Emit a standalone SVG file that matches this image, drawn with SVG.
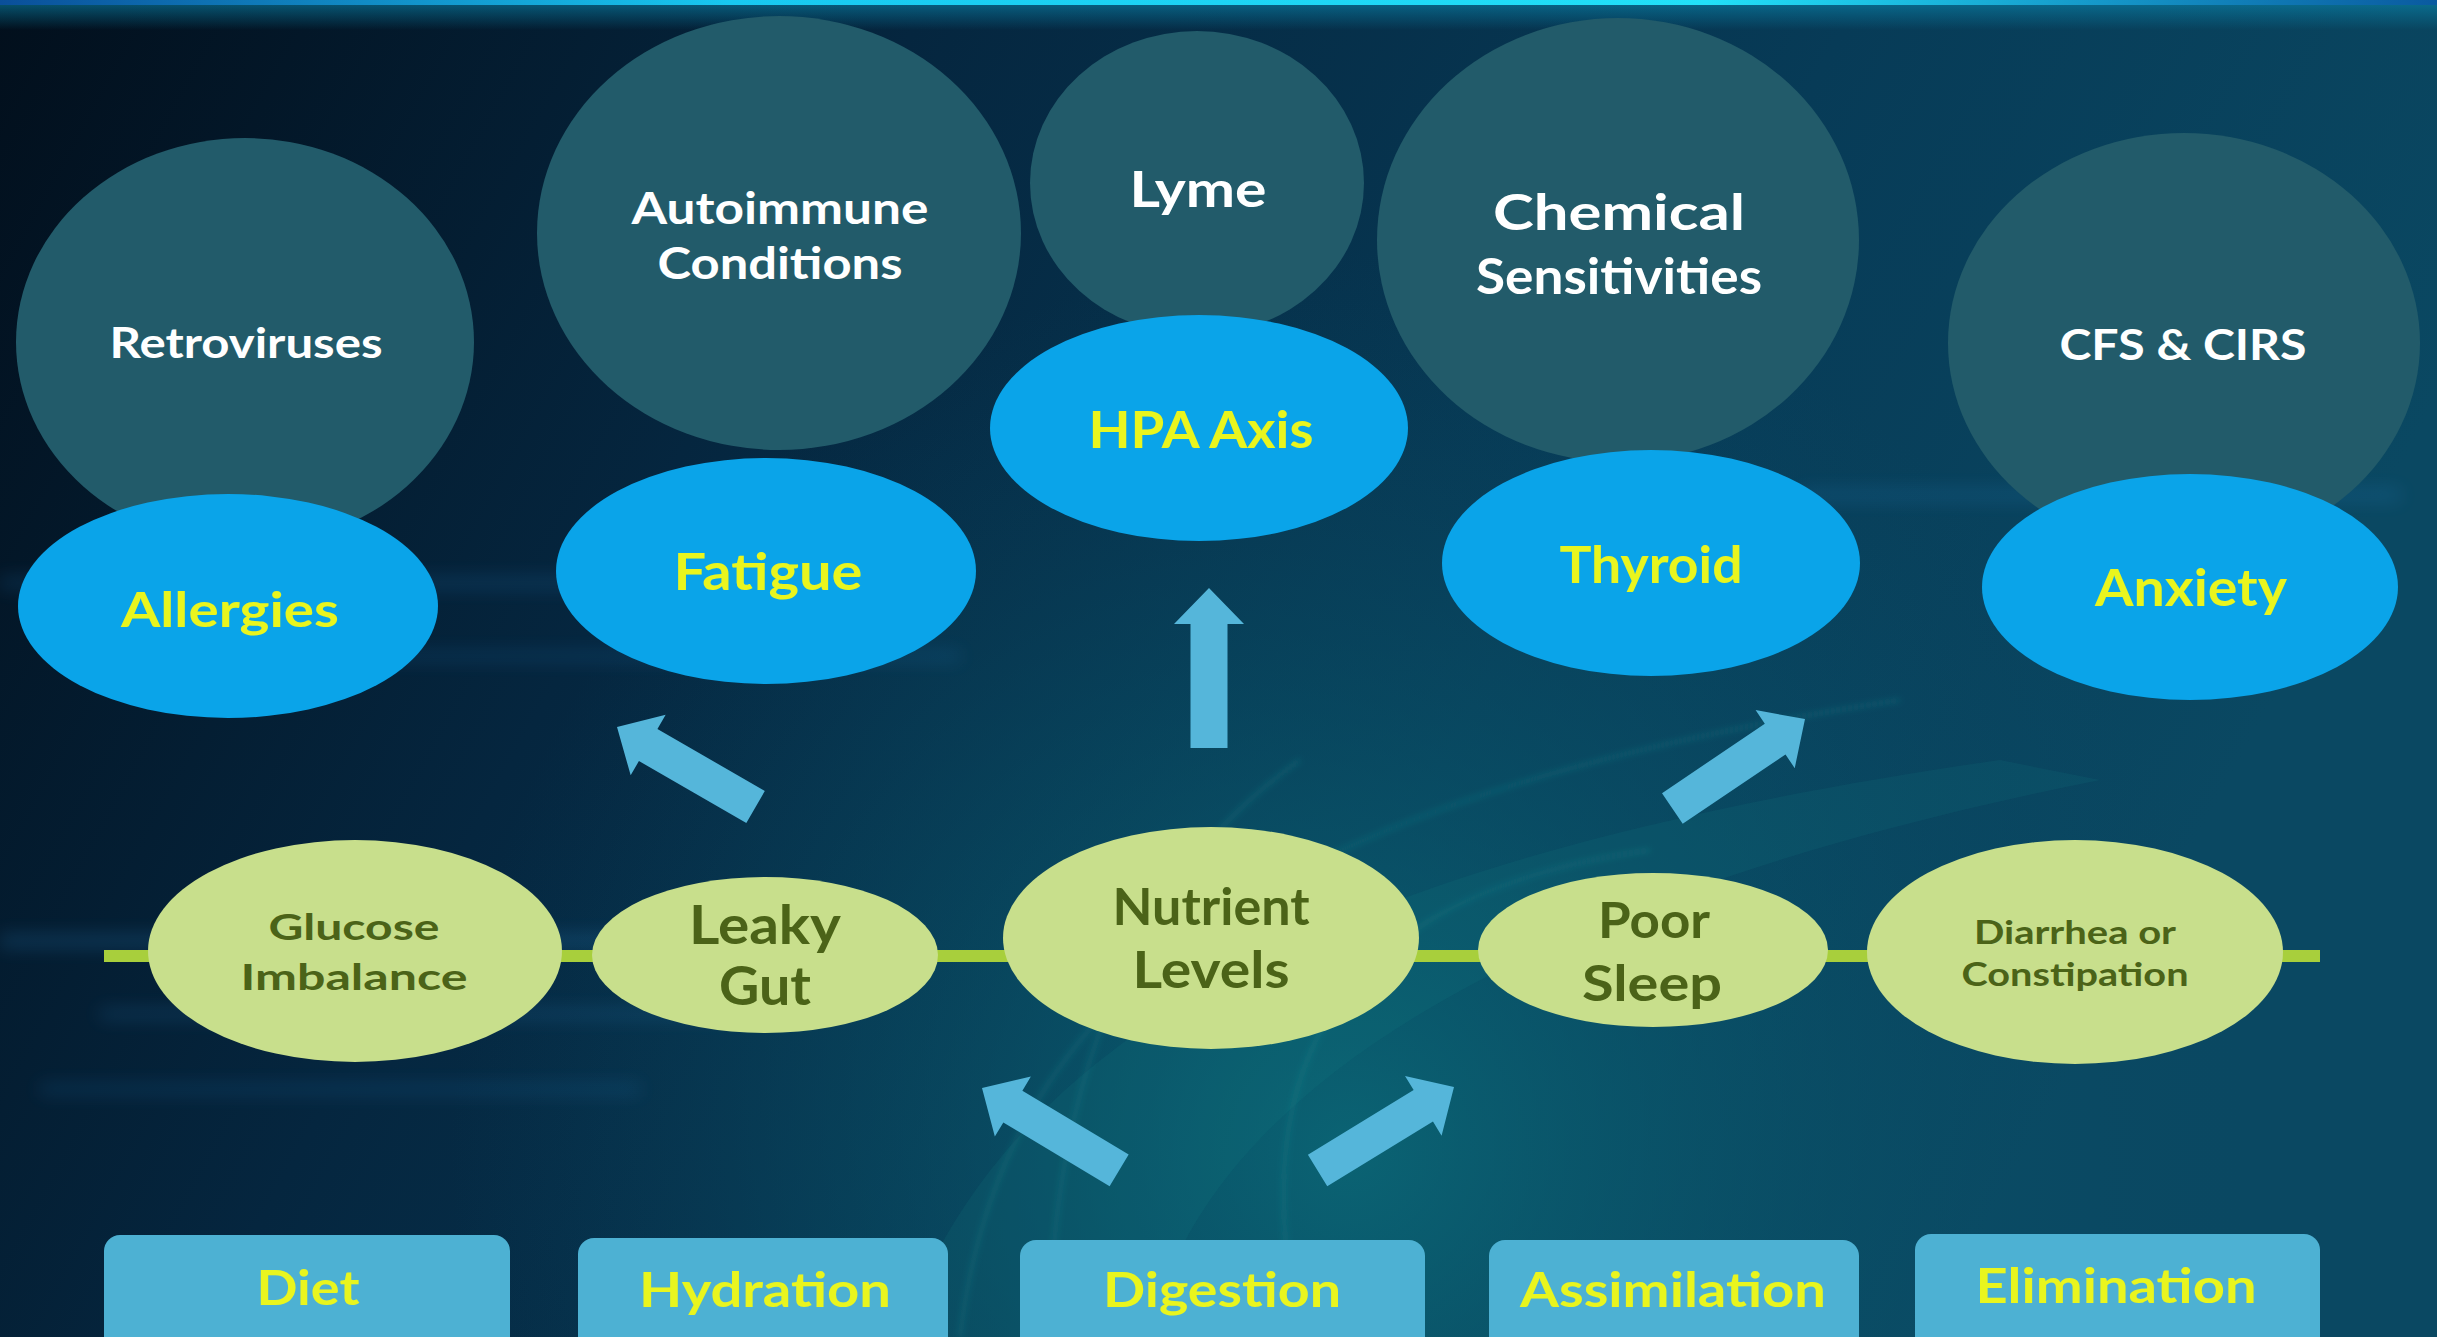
<svg xmlns="http://www.w3.org/2000/svg" width="2437" height="1337" viewBox="0 0 2437 1337">
  <defs>
    <linearGradient id="bg" x1="0" y1="0" x2="1" y2="0.3">
      <stop offset="0" stop-color="#020f1c"/>
      <stop offset="0.35" stop-color="#05263f"/>
      <stop offset="0.7" stop-color="#073b57"/>
      <stop offset="1" stop-color="#0a4862"/>
    </linearGradient>
    <radialGradient id="glow" cx="1350" cy="1150" r="900" gradientUnits="userSpaceOnUse">
      <stop offset="0" stop-color="#0b6a78" stop-opacity="0.85"/>
      <stop offset="0.5" stop-color="#0a5a6e" stop-opacity="0.4"/>
      <stop offset="1" stop-color="#0a4a66" stop-opacity="0"/>
    </radialGradient>
    <linearGradient id="topline" x1="0" y1="0" x2="1" y2="0">
      <stop offset="0" stop-color="#0a4f9a"/>
      <stop offset="0.3" stop-color="#18c8f0"/>
      <stop offset="0.7" stop-color="#22e0f8"/>
      <stop offset="1" stop-color="#0a5aa0"/>
    </linearGradient>
    <linearGradient id="topfade" x1="0" y1="0" x2="0" y2="1">
      <stop offset="0" stop-color="#0a8fb8" stop-opacity="0.6"/>
      <stop offset="1" stop-color="#0a8fb8" stop-opacity="0"/>
    </linearGradient>
    <filter id="blur" x="-20%" y="-300%" width="140%" height="700%">
      <feGaussianBlur stdDeviation="9"/>
    </filter>
    <filter id="blur2" x="-20%" y="-20%" width="140%" height="140%">
      <feGaussianBlur stdDeviation="3"/>
    </filter>
    <path id="arrow" d="M0,0 L35,36 L18.5,36 L18.5,160 L-18.5,160 L-18.5,36 L-35,36 Z"/>
    <style>
      .dark { fill: #225b6a; }
      .blue { fill: #0aa4e9; }
      .green { fill: #c8df8c; }
      .box { fill: #4db1d3; }
      .arr { fill: #55b6da; }
      text { font-family: "Lato", "Liberation Sans", sans-serif; font-weight: bold; text-anchor: middle; }
      .wt { fill: #ffffff; }
      .yt { fill: #e9f51e; }
      .gt { fill: #4b6318; }
    </style>
  </defs>

  <!-- background -->
  <rect x="0" y="0" width="2437" height="1337" fill="url(#bg)"/>
  <rect x="0" y="0" width="2437" height="1337" fill="url(#glow)"/>
  <g opacity="0.22" filter="url(#blur)">
    <rect x="0" y="578" width="700" height="10" fill="#2f8fd8"/>
    <rect x="60" y="652" width="900" height="8" fill="#2f8fd8"/>
    <rect x="0" y="935" width="650" height="12" fill="#3aa0e8"/>
    <rect x="100" y="1010" width="700" height="8" fill="#3aa0e8"/>
    <rect x="40" y="1085" width="600" height="8" fill="#2f8fd8"/>
    <rect x="1800" y="490" width="600" height="10" fill="#2f8fd8"/>
  </g>
  <g fill="none" stroke="#2aa8a8" stroke-opacity="0.25" stroke-width="3" filter="url(#blur2)">
    <path d="M960,1337 C1000,1000 1250,800 1900,700"/>
    <path d="M1300,1337 C1250,1100 1300,900 1650,850"/>
    <path d="M1050,1337 C1050,1150 1100,900 1300,760"/>
  </g>
  <path d="M900,1337 C1000,1050 1300,860 2000,760 L2100,780 C1500,900 1200,1100 1150,1337 Z" fill="#1a8a8a" opacity="0.12"/>
  <rect x="0" y="0" width="2437" height="30" fill="url(#topfade)"/>
  <rect x="0" y="0" width="2437" height="5" fill="url(#topline)"/>

  <!-- connectors -->
  <g id="connectors">
    <rect id="baseline" x="104" y="950" width="2216" height="12" fill="#a8cf3c"/>
    <use href="#arrow" class="arr" transform="translate(1209,588)"/>
    <use href="#arrow" class="arr" transform="translate(617,727) rotate(-60)"/>
    <use href="#arrow" class="arr" transform="translate(1805,719) rotate(56)"/>
    <use href="#arrow" class="arr" transform="translate(982,1088) rotate(-59)"/>
    <use href="#arrow" class="arr" transform="translate(1454,1087) rotate(58.5)"/>
  </g>

  <!-- dark condition ellipses -->
  <g id="retroviruses">
    <ellipse class="dark" cx="245" cy="342" rx="229" ry="204"/>
    <text class="wt" x="246" y="358" font-size="42" textLength="273" lengthAdjust="spacingAndGlyphs">Retroviruses</text>
  </g>
  <g id="autoimmune">
    <ellipse class="dark" cx="779" cy="233" rx="242" ry="217"/>
    <text class="wt" x="780" y="224" font-size="43" textLength="297" lengthAdjust="spacingAndGlyphs">Autoimmune</text>
    <text class="wt" x="780" y="279" font-size="43" textLength="245" lengthAdjust="spacingAndGlyphs">Conditions</text>
  </g>
  <g id="lyme">
    <ellipse class="dark" cx="1197" cy="183" rx="167" ry="152"/>
    <text class="wt" x="1198" y="207" font-size="50" textLength="137" lengthAdjust="spacingAndGlyphs">Lyme</text>
  </g>
  <g id="chemical">
    <ellipse class="dark" cx="1618" cy="240" rx="241" ry="222"/>
    <text class="wt" x="1619" y="230" font-size="50" textLength="252" lengthAdjust="spacingAndGlyphs">Chemical</text>
    <text class="wt" x="1619" y="294" font-size="50" textLength="286" lengthAdjust="spacingAndGlyphs">Sensitivities</text>
  </g>
  <g id="cfs">
    <ellipse class="dark" cx="2184" cy="343" rx="236" ry="210"/>
    <text class="wt" x="2183" y="360" font-size="42" textLength="247" lengthAdjust="spacingAndGlyphs">CFS &amp; CIRS</text>
  </g>

  <!-- blue symptom ellipses -->
  <g id="allergies">
    <ellipse class="blue" cx="228" cy="606" rx="210" ry="112"/>
    <text class="yt" x="230" y="627" font-size="48" textLength="218" lengthAdjust="spacingAndGlyphs">Allergies</text>
  </g>
  <g id="fatigue">
    <ellipse class="blue" cx="766" cy="571" rx="210" ry="113"/>
    <text class="yt" x="768" y="590" font-size="51" textLength="189" lengthAdjust="spacingAndGlyphs">Fatigue</text>
  </g>
  <g id="hpa">
    <ellipse class="blue" cx="1199" cy="428" rx="209" ry="113"/>
    <text class="yt" x="1201" y="448" font-size="51" textLength="225" lengthAdjust="spacingAndGlyphs">HPA Axis</text>
  </g>
  <g id="thyroid">
    <ellipse class="blue" cx="1651" cy="563" rx="209" ry="113"/>
    <text class="yt" x="1651" y="583" font-size="51" textLength="183" lengthAdjust="spacingAndGlyphs">Thyroid</text>
  </g>
  <g id="anxiety">
    <ellipse class="blue" cx="2190" cy="587" rx="208" ry="113"/>
    <text class="yt" x="2191" y="606" font-size="51" textLength="192" lengthAdjust="spacingAndGlyphs">Anxiety</text>
  </g>

  <!-- green ellipses -->
  <g id="glucose">
    <ellipse class="green" cx="355" cy="951" rx="207" ry="111"/>
    <text class="gt" x="354" y="940" font-size="37" textLength="171" lengthAdjust="spacingAndGlyphs">Glucose</text>
    <text class="gt" x="354" y="990" font-size="37" textLength="227" lengthAdjust="spacingAndGlyphs">Imbalance</text>
  </g>
  <g id="leaky">
    <ellipse class="green" cx="765" cy="955" rx="173" ry="78"/>
    <text class="gt" x="765" y="944" font-size="54" textLength="152" lengthAdjust="spacingAndGlyphs">Leaky</text>
    <text class="gt" x="765" y="1005" font-size="54" textLength="92" lengthAdjust="spacingAndGlyphs">Gut</text>
  </g>
  <g id="nutrient">
    <ellipse class="green" cx="1211" cy="938" rx="208" ry="111"/>
    <text class="gt" x="1211" y="925" font-size="52" textLength="197" lengthAdjust="spacingAndGlyphs">Nutrient</text>
    <text class="gt" x="1211" y="988" font-size="52" textLength="157" lengthAdjust="spacingAndGlyphs">Levels</text>
  </g>
  <g id="sleep">
    <ellipse class="green" cx="1653" cy="950" rx="175" ry="77"/>
    <text class="gt" x="1654" y="938" font-size="49" textLength="112" lengthAdjust="spacingAndGlyphs">Poor</text>
    <text class="gt" x="1652" y="1001" font-size="49" textLength="140" lengthAdjust="spacingAndGlyphs">Sleep</text>
  </g>
  <g id="diarrhea">
    <ellipse class="green" cx="2075" cy="952" rx="208" ry="112"/>
    <text class="gt" x="2075" y="944" font-size="33" textLength="202" lengthAdjust="spacingAndGlyphs">Diarrhea or</text>
    <text class="gt" x="2075" y="986" font-size="33" textLength="227" lengthAdjust="spacingAndGlyphs">Constipation</text>
  </g>

  <!-- bottom boxes -->
  <g id="diet">
    <rect class="box" x="104" y="1235" width="406" height="120" rx="16"/>
    <text class="yt" x="308" y="1305" font-size="48" textLength="103" lengthAdjust="spacingAndGlyphs">Diet</text>
  </g>
  <g id="hydration">
    <rect class="box" x="578" y="1238" width="370" height="120" rx="16"/>
    <text class="yt" x="765" y="1307" font-size="48" textLength="252" lengthAdjust="spacingAndGlyphs">Hydration</text>
  </g>
  <g id="digestion">
    <rect class="box" x="1020" y="1240" width="405" height="120" rx="16"/>
    <text class="yt" x="1222" y="1307" font-size="48" textLength="238" lengthAdjust="spacingAndGlyphs">Digestion</text>
  </g>
  <g id="assimilation">
    <rect class="box" x="1489" y="1240" width="370" height="120" rx="16"/>
    <text class="yt" x="1673" y="1307" font-size="48" textLength="306" lengthAdjust="spacingAndGlyphs">Assimilation</text>
  </g>
  <g id="elimination">
    <rect class="box" x="1915" y="1234" width="405" height="120" rx="16"/>
    <text class="yt" x="2116" y="1303" font-size="48" textLength="281" lengthAdjust="spacingAndGlyphs">Elimination</text>
  </g>
</svg>
